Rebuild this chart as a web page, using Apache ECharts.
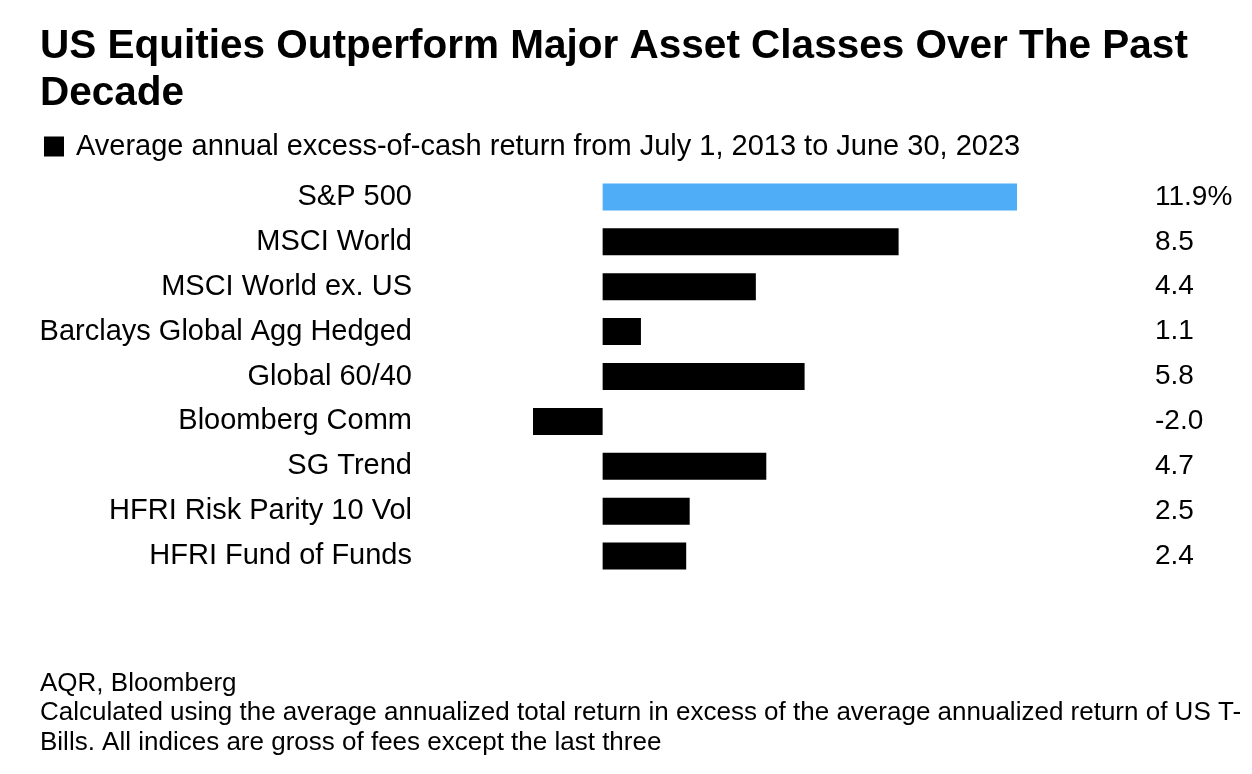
<!DOCTYPE html>
<html>
<head>
<meta charset="utf-8">
<script src="https://cdn.jsdelivr.net/npm/echarts@6/dist/echarts.min.js"></script>
<style>html,body{margin:0;padding:0;background:#fff}#c{width:1252px;height:774px}</style>
</head>
<body>
<div id="c"></div>
<script>
const categories = ["S&P 500","MSCI World","MSCI World ex. US","Barclays Global Agg Hedged","Global 60/40","Bloomberg Comm","SG Trend","HFRI Risk Parity 10 Vol","HFRI Fund of Funds"];
const values = [11.9, 8.5, 4.4, 1.1, 5.8, -2.0, 4.7, 2.5, 2.4];
const valueLabels = ["11.9%","8.5","4.4","1.1","5.8","-2.0","4.7","2.5","2.4"];
const seriesName = "Average annual excess-of-cash return from July 1, 2013 to June 30, 2023";
const highlightIndex = 0;

const FONT = '"Liberation Sans", Arial, Helvetica, sans-serif';
const chart = echarts.init(document.getElementById('c'));
chart.setOption({
  animation: false,
  textStyle: { fontFamily: FONT },
  title: {
    text: "US Equities Outperform Major Asset Classes Over The Past\nDecade",
    left: 40, top: 23, padding: 0,
    textStyle: { fontFamily: FONT, fontSize: 40.5, fontWeight: 'bold', color: '#000', lineHeight: 47 }
  },
  legend: {
    left: 44, top: 132, padding: 0,
    icon: 'rect', itemWidth: 20, itemHeight: 20, itemGap: 10,
    textStyle: { fontFamily: FONT, fontSize: 29, color: '#000', padding: [0,0,0,7] },
    data: [seriesName]
  },
  grid: { left: 533, right: 235, top: 174.5, height: 404, containLabel: false },
  xAxis: { type: 'value', min: -2, max: 11.9, show: false },
  yAxis: [
    { type: 'category', data: categories, inverse: true,
      axisLine: { show: false }, axisTick: { show: false },
      axisLabel: { margin: 121, fontFamily: FONT, fontSize: 29, color: '#000', align: 'right' } },
    { type: 'category', data: valueLabels, inverse: true, position: 'right',
      axisLine: { show: false }, axisTick: { show: false },
      axisLabel: { margin: 138, fontFamily: FONT, fontSize: 28, color: '#000', align: 'left' } }
  ],
  series: [{
    name: seriesName, type: 'bar', barWidth: 27, yAxisIndex: 0,
    itemStyle: { color: '#000' },
    data: values.map((v, i) => i === highlightIndex ? { value: v, itemStyle: { color: '#4FACF7' } } : v)
  }],
  graphic: [
    { type: 'text', left: 40, top: 669, style: { text: 'AQR, Bloomberg\nCalculated using the average annualized total return in excess of the average annualized return of US T-\nBills. All indices are gross of fees except the last three', fontFamily: FONT, fontSize: 26, lineHeight: 29.5, fill: '#000' } }
  ]
});
</script>
</body>
</html>
